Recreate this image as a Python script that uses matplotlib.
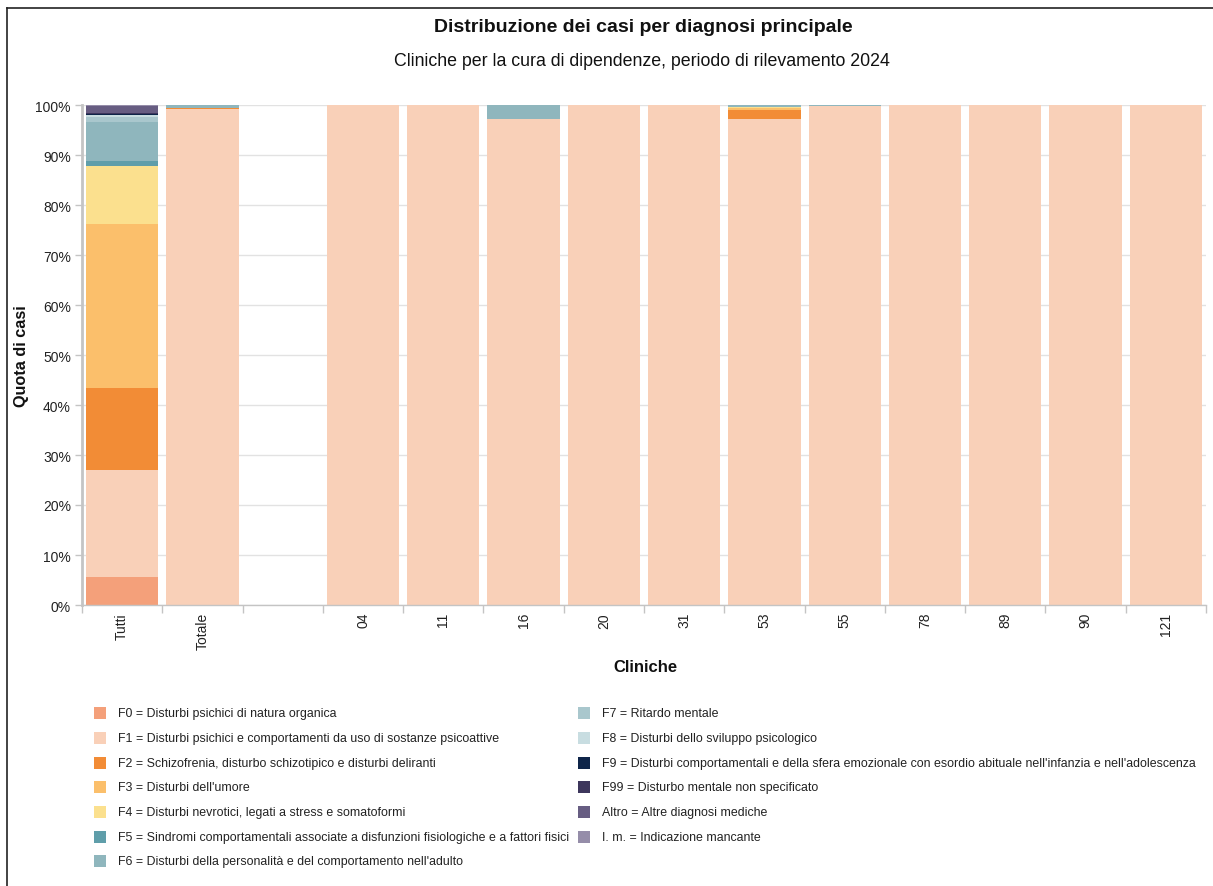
import matplotlib
matplotlib.use("Agg")
import matplotlib.pyplot as plt
from matplotlib.patches import Rectangle
from matplotlib.lines import Line2D
import numpy as np

plt.rcParams['font.family'] = ['Liberation Sans', 'DejaVu Sans']

categories = ["Tutti", "Totale", "", "04", "11", "16", "20", "31", "53", "55", "78", "89", "90", "121"]

F0 = [5.6, 0, 0, 0, 0, 0, 0, 0, 0, 0, 0, 0, 0, 0]
F1 = [21.5, 99.3, 0, 100, 100, 97.2, 100, 100, 97.2, 99.8, 100, 100, 100, 100]
F2 = [16.3, 0.15, 0, 0, 0, 0, 0, 0, 1.8, 0, 0, 0, 0, 0]
F3 = [32.8, 0, 0, 0, 0, 0, 0, 0, 0.5, 0, 0, 0, 0, 0]
F4 = [11.6, 0, 0, 0, 0, 0, 0, 0, 0.2, 0, 0, 0, 0, 0]
F5 = [1.0, 0, 0, 0, 0, 0, 0, 0, 0, 0, 0, 0, 0, 0]
F6 = [7.8, 0.55, 0, 0, 0, 2.8, 0, 0, 0.3, 0.2, 0, 0, 0, 0]
F7 = [1.0, 0, 0, 0, 0, 0, 0, 0, 0, 0, 0, 0, 0, 0]
F8 = [0.4, 0, 0, 0, 0, 0, 0, 0, 0, 0, 0, 0, 0, 0]
F9 = [0.2, 0, 0, 0, 0, 0, 0, 0, 0, 0, 0, 0, 0, 0]
F99 = [0.3, 0, 0, 0, 0, 0, 0, 0, 0, 0, 0, 0, 0, 0]
Altro = [1.3, 0, 0, 0, 0, 0, 0, 0, 0, 0, 0, 0, 0, 0]
IM = [0.2, 0, 0, 0, 0, 0, 0, 0, 0, 0, 0, 0, 0, 0]

series_values = [F0, F1, F2, F3, F4, F5, F6, F7, F8, F9, F99, Altro, IM]
series_labels = [
    "F0 = Disturbi psichici di natura organica",
    "F1 = Disturbi psichici e comportamenti da uso di sostanze psicoattive",
    "F2 = Schizofrenia, disturbo schizotipico e disturbi deliranti",
    "F3 = Disturbi dell'umore",
    "F4 = Disturbi nevrotici, legati a stress e somatoformi",
    "F5 = Sindromi comportamentali associate a disfunzioni fisiologiche e a fattori fisici",
    "F6 = Disturbi della personalità e del comportamento nell'adulto",
    "F7 = Ritardo mentale",
    "F8 = Disturbi dello sviluppo psicologico",
    "F9 = Disturbi comportamentali e della sfera emozionale con esordio abituale nell'infanzia e nell'adolescenza",
    "F99 = Disturbo mentale non specificato",
    "Altro = Altre diagnosi mediche",
    "I. m. = Indicazione mancante",
]
series_colors = ["#f4a07a", "#f9d0b8", "#f28c36", "#fbbf6b", "#fbe08e", "#5f9eaa",
                 "#8fb6bd", "#a9c7cd", "#c8dde1", "#0e2549", "#3d365c", "#675d82", "#958da9"]

W, H = 1213, 887
fig = plt.figure(figsize=(W / 100, H / 100), dpi=100)

def fx(px):
    return px / W

def fy(py):
    return 1 - py / H

ax = fig.add_axes([fx(82), fy(606), fx(1206) - fx(82), fy(106) - fy(606)])

x = np.arange(len(categories))
bottom = np.zeros(len(categories))
for vals, col in zip(series_values, series_colors):
    v = np.array(vals, dtype=float)
    ax.bar(x, v, bottom=bottom, width=0.9, color=col, linewidth=0, zorder=2)
    bottom += v

ax.set_xlim(-0.5, len(categories) - 0.5)
ax.set_ylim(0, 100)
yt = np.arange(0, 101, 10)
ax.set_yticks(yt)
ax.set_yticklabels([f"{v}%" for v in yt], fontsize=10, color="#222222")
ax.grid(axis="y", color="#e2e2e2", linewidth=1, zorder=0)
ax.set_axisbelow(True)

ax.set_xticks(x)
ax.set_xticklabels(categories, rotation=90, fontsize=10, color="#222222")
ax.tick_params(axis="x", which="major", length=0, pad=5)
ax.set_xticks(np.arange(-0.5, len(categories) + 0.5, 1), minor=True)
ax.tick_params(axis="x", which="minor", length=6, color="#c4c4c4", width=1)
ax.tick_params(axis="y", length=5, color="#c4c4c4", width=1, pad=3)

for s in ["top", "right"]:
    ax.spines[s].set_visible(False)
ax.spines["left"].set_color("#c4c4c4")
ax.spines["left"].set_linewidth(2)
ax.spines["bottom"].set_color("#c4c4c4")
ax.spines["bottom"].set_linewidth(1)

fig.text(fx(643), fy(27.5), "Distribuzione dei casi per diagnosi principale", ha="center", va="center",
         fontsize=14, fontweight="bold", color="#111111")
fig.text(fx(642), fy(62), "Cliniche per la cura di dipendenze, periodo di rilevamento 2024", ha="center",
         va="center", fontsize=12.8, color="#111111")
fig.text(fx(645), fy(667), "Cliniche", ha="center", va="center", fontsize=12, fontweight="bold", color="#111111")
fig.text(fx(22), fy(356), "Quota di casi", ha="center", va="center", rotation=90, fontsize=11.7,
         fontweight="bold", color="#111111")

# legend (two columns)
row_y = [714, 739, 764, 788, 813, 838, 862]
for i, (lab, col) in enumerate(zip(series_labels, series_colors)):
    if i < 7:
        sx, tx, yy = 94, 118, row_y[i]
    else:
        sx, tx, yy = 578, 602, row_y[i - 7]
    fig.add_artist(Rectangle((fx(sx), fy(yy + 6)), fx(12), 12 / H, transform=fig.transFigure,
                             facecolor=col, edgecolor="none"))
    fig.text(fx(tx), fy(yy), lab, ha="left", va="center", fontsize=8.9, color="#222222")

# outer frame (top and left)
fig.add_artist(Line2D([fx(7), fx(1213)], [fy(9), fy(9)], transform=fig.transFigure, color="#222222", lw=1.2))
fig.add_artist(Line2D([fx(7), fx(7)], [fy(9), 0], transform=fig.transFigure, color="#222222", lw=1.2))

fig.savefig("out.png", dpi=100)
